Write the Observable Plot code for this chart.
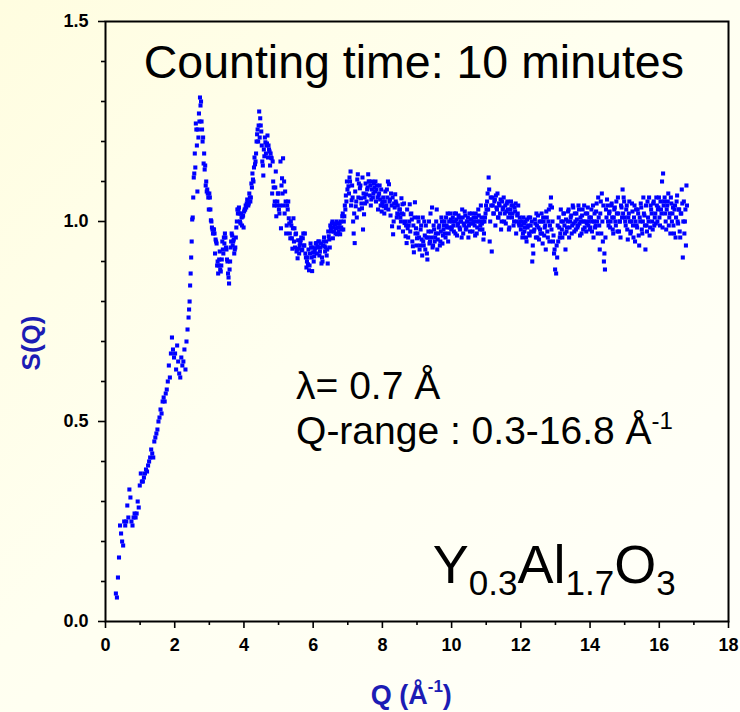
<!DOCTYPE html>
<html><head><meta charset="utf-8">
<script src="https://cdn.jsdelivr.net/npm/d3@7"></script>
<script src="https://cdn.jsdelivr.net/npm/@observablehq/plot@0.6"></script>
<style>
html,body{margin:0;padding:0;}
body{width:740px;height:712px;overflow:hidden;background:linear-gradient(135deg,#fffde0 0%,#fffff0 45%,#fffffa 100%);}
#chart{position:relative;width:740px;height:712px;}
svg{font-family:"Liberation Sans",Arial,sans-serif;}
</style></head><body><div id="chart"></div>
<script>
// ---- data: S(Q) values; each list is on a Q grid of step 0.03 Å^-1 from its start ----
const qStep = 0.03;
const sLowQ = [ // Q from 0.30
0.07,0.06,0.11,0.16,0.24,0.22,0.20,0.19,0.25,0.24,0.25,0.29,0.26,0.33,0.31,0.25,0.24,0.26,0.27,0.26,
0.27,0.30,0.285,0.34,0.37,0.35,0.35,0.36,0.37,0.38,0.375,0.39,0.40,0.41,0.43,0.42,0.41,0.45,0.46,0.47,
0.48,0.50,0.51,0.53,0.52,0.55,0.56,0.55,0.57,0.58,0.60,0.64,0.61,0.67,0.71,0.68,0.66,0.67,0.63,0.69,
0.65,0.62,0.61,0.66,0.64,0.65,0.68,0.63,0.70,0.73];
const sPeaks = [ // Q from 2.40
0.76,0.80,0.87,0.95,1.01,1.11,1.17,1.245,1.19,1.23,1.27,1.31,
1.30,1.23,1.21,1.17,1.14,1.10,1.08,1.06,1.07,1.03,1.00,0.98,0.98,0.97,0.955,0.945,0.90,0.89,0.925,0.875,
0.905,0.93,0.96,0.97,0.935,0.905,0.87,0.845,0.90,0.95,0.965,0.95,0.92,0.935,0.985,1.03,1.03,1.02,0.995,1.01,1.012,0.985,
1.03,1.04,1.045,1.05,1.045,1.06,1.06,1.085,1.105,1.135,1.143,1.17,1.218,1.20,1.275,1.258,1.225,1.15,1.115,1.163,
1.198,1.19,1.215,1.19,1.175,1.17,1.158,1.15,1.085,1.05,1.125,1.04,1.07,1.03,
1.04,0.983,1.108,1.158,1.10,1.075,0.97,1.04,1.05,0.995,0.958,0.99,0.932,1.008,0.983,0.968,0.925,0.908,0.932,0.94,
0.953,0.928,0.958,0.94,0.97,0.91,0.90,0.893,0.878,0.92,0.935,0.876,0.923,0.913,0.933,0.946,0.938,0.95,0.915,0.935,
0.895,0.90,0.95,0.938,0.935,0.915,0.895,0.963,0.935,0.983,0.995,0.958,0.975,0.993,0.983,0.968,0.995,0.985,0.968,0.985,
1.013,0.98,1.013,1.03,1.05,1.08];
const sPeaksB = [ // Q from 2.415
0.78,0.84,0.91,1.005,1.06,1.12,1.135,1.23,1.075,1.21,1.25,1.29,
1.25,1.20,1.145,1.13,1.09,1.075,1.07,1.03,1.06,1.003,0.985,0.97,0.98,0.92,0.95,0.89,0.87,0.905,0.88,0.89,
0.95,0.92,0.945,0.96,0.93,0.90,0.86,0.88,0.935,0.97,0.94,0.955,0.93,0.96,1.00,1.02,1.035,1.00,1.02,0.99,1.015,
1.025,1.03,1.035,1.055,1.04,1.07,1.05,1.095,1.12,1.10,1.16,1.15,1.20,1.23,1.24,1.21,1.24,1.19,1.14,1.18,
1.21,1.17,1.195,1.16,1.18,1.14,1.16,1.07,1.10,1.04,1.085,1.013,1.05,1.07,
1.02,1.15,1.09,1.07,1.04,1.02,1.05,0.99,1.03,1.008,0.97,1.00,0.958,0.983,0.95,0.935,0.97,0.93,0.953,0.92,
0.945,0.96,0.93,0.97,0.94,0.92,0.885,0.91,0.93,0.89,0.945,0.91,0.935,
0.90,0.925,0.945,0.92,0.935,0.95,0.925,0.945,0.91,0.94,0.96,0.925,0.95,0.93,0.975,0.955,0.99,0.975,1.00,0.985,
0.995,0.97,1.00,0.985,0.975,0.995,1.00,0.98,1.02,1.00,1.04,1.065,1.10];
const sTail7 = [ // Q from 7.02
1.088,1.11,1.125,1.053,1.06,0.97,0.946,1.038,1.01,1.118,1.095,1.083,1.058,1.033,0.98,1.018,1.045,1.068,1.08,1.118,
1.10,1.09,1.055,1.10,1.07,1.085,1.10,1.08,1.06,1.065,1.09,1.04,1.025,1.05,1.038,1.05,1.033,1.08,1.10,1.093,
1.055,1.07,0.988,0.968,1.045,1.068,1.045,1.02,1.018,1.03,1.01,1.058,1.043,1.018,0.996,0.963,0.946,0.983,0.99,1.043,
1.018,1.005,0.938,0.923,1.048,0.983,0.958];
const sTail7B = [ // Q from 7.035
1.07,1.10,1.04,1.09,1.00,1.02,1.075,1.05,1.105,1.06,1.03,1.09,1.045,1.11,1.07,1.06,1.095,1.05,1.085,1.10,
1.065,1.04,1.08,1.06,1.095,1.075,1.05,1.09,1.03,1.07,1.055,1.08,1.045,1.06,1.02,1.075,1.04,1.06,1.03,1.05,
1.015,1.04,1.06,1.00,1.035,1.05,1.01,1.04,0.985,1.03,1.00,1.02,0.975,1.045,1.00,0.99,1.03,0.96,1.00,0.975,
1.02,0.95,0.99,1.01,0.97,0.94];
const sTail9 = [ // Q from 9.03
1.01,0.96,0.94,0.99,0.915,0.95,1.00,0.93,0.96,0.905,0.975,0.945,1.02,0.96,0.935,0.99,0.95,0.97,1.03,0.955,
0.985,0.94,0.975,1.00,0.965,0.99,0.97,1.01,0.985,0.95,1.00,1.02,0.98];
const sTail9B = [ // Q from 9.015
0.97,1.00,0.93,0.98,0.955,1.01,0.94,0.965,0.99,0.92,0.96,1.00,0.95,0.975,1.035,0.94,0.98,0.96,1.00,0.93,
0.97,0.99,0.95,1.01,0.945,0.98,1.00,0.96,0.99,1.02,0.97,0.985,1.005];
const sTail10 = [ // Q from 10.02
1.00,0.99,1.02,0.97,1.005,0.99,1.015,0.985,1.00,0.96,1.01,0.995,1.025,0.98,1.00,1.01,0.99,0.975,1.005,1.02,
0.995,1.00,0.965,1.01,0.985,1.03,1.00,0.99,1.01,0.98,0.955,1.00,1.02];
const sTail10B = [ // Q from 10.005
0.985,1.01,0.975,1.00,1.02,0.965,0.995,1.01,0.98,1.00,1.03,0.97,0.99,1.015,0.985,1.00,0.96,1.02,0.995,1.005,
0.975,1.01,0.99,1.02,0.97,1.00,1.015,0.98,1.04,0.995,1.00,0.97,1.01,1.04];
const sTail11 = [ // Q from 11.01
1.03,1.07,1.11,0.95,1.06,0.925,1.04,1.02,1.055,1.065,1.03,1.01,1.045,1.02,0.98,1.05,1.035,1.00,1.04,1.025,
1.05,1.01,0.985,1.03,1.04,1.02,0.99,1.035,1.045,1.00,1.02,0.995,1.01];
const sTail11B = [ // Q from 11.025
1.05,1.03,1.08,1.00,1.04,1.06,1.02,1.05,0.99,1.035,1.07,1.01,1.04,1.055,1.00,1.03,1.06,1.02,0.995,1.045,
1.03,0.98,1.02,1.05,1.01,1.04,1.00,1.025,0.97,1.015,1.04,0.99,1.00];
const sTail12 = [ // Q from 12.00
0.98,1.00,0.97,0.995,0.985,0.96,1.005,0.99,0.97,1.01,0.975,0.90,0.92,0.98,0.995,1.02,0.96,0.985,1.00,0.97,
1.02,0.945,1.00,0.985,0.93,1.01,0.96,1.03,0.99,1.06,1.035,0.95,0.92,0.88];
const sTail12B = [ // Q from 12.015
0.99,0.96,1.01,0.975,1.00,0.95,0.985,1.01,0.965,0.99,1.00,0.94,0.975,1.005,0.96,0.99,1.015,0.955,0.98,1.00,
0.97,1.01,0.965,0.99,1.025,0.975,1.00,0.95,1.04,0.98,1.00,0.965,0.93];
const sTail13 = [ // Q from 13.02
0.87,0.91,0.95,0.985,0.97,1.00,0.96,1.02,0.99,0.93,0.975,1.00,1.03,0.985,1.01,0.97,1.04,0.995,1.02,0.98,
1.005,0.99,1.03,0.965,1.00,1.015,0.98,1.04,1.00,0.975,1.02,0.99,1.01];
const sTail13B = [ // Q from 13.035
0.94,0.99,1.01,0.96,1.03,0.98,1.00,1.02,0.97,1.005,0.985,1.025,0.96,1.00,1.015,0.99,1.035,0.975,1.00,1.02,
0.985,1.04,0.995,1.01,0.97,1.03,1.00,0.985,1.02,0.995,1.035,1.00,0.98];
const sTail14 = [ // Q from 14.01
0.985,1.03,1.00,0.96,1.02,0.99,1.045,0.97,1.01,0.93,1.05,1.07,0.95,0.90,0.88,1.03,1.055,1.00,1.02,0.985,
1.04,1.01,0.97,1.03,1.00,1.05,0.975,1.02,1.00,0.96,1.035,1.08,1.06];
const sTail14B = [ // Q from 14.025
1.01,0.975,1.04,1.00,0.985,1.025,1.00,1.06,0.99,1.02,0.97,1.00,1.04,0.92,0.96,1.01,1.04,0.99,1.025,1.00,
1.045,0.98,1.01,1.035,0.99,1.02,1.06,0.975,1.00,1.04,1.01,1.02,1.05];
const sTail15 = [ // Q from 15.00
1.01,0.99,1.04,0.955,1.02,1.00,0.975,1.045,0.99,1.01,0.95,1.03,0.985,1.02,0.94,1.00,1.035,0.97,1.06,1.015,
0.93,0.99,1.05,1.00,0.965,1.04,1.02,0.98,1.05,1.01,0.995,1.04];
const sTail15B = [ // Q from 15.015
1.00,1.03,0.98,1.01,1.05,0.97,1.00,1.025,0.96,1.04,1.00,0.99,1.03,0.965,1.01,1.045,0.98,1.00,1.02,0.99,
1.04,0.975,1.01,1.06,0.985,1.03,1.00,1.045,0.99,1.02,1.06,1.00,1.035];
const sTail16 = [ // Q from 15.96
1.03,1.06,0.99,1.03,1.10,1.12,1.05,1.02,0.98,1.04,1.07,1.01,0.97,1.045,1.02,0.99,1.03,0.96,1.05,1.00,
1.03,0.975,1.02,1.08,0.91,1.05,1.00,0.94,1.04];
const sTail16B = [ // Q from 16.005
1.01,1.05,1.02,0.985,1.04,1.06,1.00,1.03,1.05,0.99,1.02,1.06,1.00,1.035,0.97,1.04,1.01,1.065,0.995,1.03,
0.96,1.02,1.045,1.00,0.97,1.03,1.09];
const segments = [
  [0.30, sLowQ], [2.40, sPeaks], [2.415, sPeaksB],
  [7.02, sTail7], [7.035, sTail7B], [9.03, sTail9], [9.015, sTail9B], [10.02, sTail10], [10.005, sTail10B],
  [11.01, sTail11], [11.025, sTail11B], [12.00, sTail12], [12.015, sTail12B], [13.02, sTail13], [13.035, sTail13B],
  [14.01, sTail14], [14.025, sTail14B], [15.00, sTail15], [15.015, sTail15B], [15.96, sTail16], [16.005, sTail16B]
];
const data = segments.flatMap(([q0, vals]) => vals.map((s, i) => ({q: q0 + i * qStep, s})));

const xMajor = [0,2,4,6,8,10,12,14,16,18];
const xMinor = [1,3,5,7,9,11,13,15,17];
const yMajor = [0,0.5,1.0,1.5];
const yMajorLabels = ["0.0","0.5","1.0","1.5"];
const yMinor = [0.1,0.2,0.3,0.4,0.6,0.7,0.8,0.9,1.1,1.2,1.3,1.4];

const titleText = "Counting time: 10 minutes";
const xLabel = ["Q (Å", "-1", ")"];
const yLabel = "S(Q)";
const lambdaText = "λ= 0.7 Å";
const rangeText = ["Q-range : 0.3-16.8 Å", "-1"];
const formula = [["Y",""],["0.3","sub"],["Al",""],["1.7","sub"],["O",""],["3","sub"]];

const labelBlue = "#1c1cb4";
const dotBlue = "#0000ff";

const plot = Plot.plot({
  width: 740, height: 712,
  marginLeft: 105, marginRight: 12, marginTop: 21, marginBottom: 91,
  style: {background: "transparent", fontFamily: "Liberation Sans, Arial, sans-serif", color: "black"},
  x: {domain: [0, 18]},
  y: {domain: [0, 1.5]},
  marks: [
    Plot.axisX({ticks: xMinor, tickSize: 4, tickFormat: () => "", label: null, strokeWidth: 1.6}),
    Plot.axisX({ticks: xMajor, tickSize: 7, tickPadding: 10, label: null, strokeWidth: 1.6,
      fontSize: 18, fontWeight: "bold", tickFormat: d => String(d)}),
    Plot.axisY({ticks: yMinor, tickSize: 4, tickFormat: () => "", label: null, strokeWidth: 1.6}),
    Plot.axisY({ticks: yMajor, tickSize: 7, tickPadding: 10, label: null, strokeWidth: 1.6,
      fontSize: 18, fontWeight: "bold", tickFormat: d => yMajorLabels[yMajor.indexOf(d)]}),
    Plot.dot(data, {x: "q", y: "s", symbol: "square", r: 2.3, fill: dotBlue, stroke: "none"}),
    Plot.frame({stroke: "black", strokeWidth: 2})
  ]
});
document.getElementById("chart").appendChild(plot);

const svg = d3.select(plot);
const X = plot.scale("x"), Y = plot.scale("y");
const font = "Liberation Sans, Arial, sans-serif";
const addText = (x, y, size) => svg.append("text").attr("x", x).attr("y", y)
  .attr("text-anchor", "start").attr("font-family", font).attr("font-size", size).attr("fill", "black");

// title inside plot
addText(X.apply(1.12), Y.apply(1.358), 46.5).text(titleText);

// lambda and Q-range
addText(X.apply(5.52), Y.apply(0.555), 39).text(lambdaText);
const rt = addText(X.apply(5.52), Y.apply(0.443), 39);
rt.append("tspan").text(rangeText[0]);
rt.append("tspan").attr("font-size", 24).attr("dy", -15).text(rangeText[1]);

// formula
const ft = addText(X.apply(9.47), Y.apply(0.095), 54);
let sub = false;
formula.forEach(([t, k]) => {
  const ts = ft.append("tspan").text(t);
  if (k === "sub") { ts.attr("font-size", 35).attr("dy", sub ? 0 : 12); sub = true; }
  else { if (sub) ts.attr("dy", -12); sub = false; }
});

// axis labels
svg.append("text").attr("transform", `translate(40,${(Y.apply(0.695))}) rotate(-90)`)
  .attr("text-anchor", "middle").attr("font-family", font).attr("font-weight", "bold")
  .attr("font-size", 26).attr("fill", labelBlue).text(yLabel);
const xl = svg.append("text").attr("x", X.apply(8.85)).attr("y", 704)
  .attr("text-anchor", "middle").attr("font-family", font).attr("font-weight", "bold")
  .attr("font-size", 27).attr("fill", labelBlue);
xl.append("tspan").text(xLabel[0]);
xl.append("tspan").attr("font-size", 17).attr("dy", -12).text(xLabel[1]);
xl.append("tspan").attr("dy", 12).text(xLabel[2]);
</script></body></html>
